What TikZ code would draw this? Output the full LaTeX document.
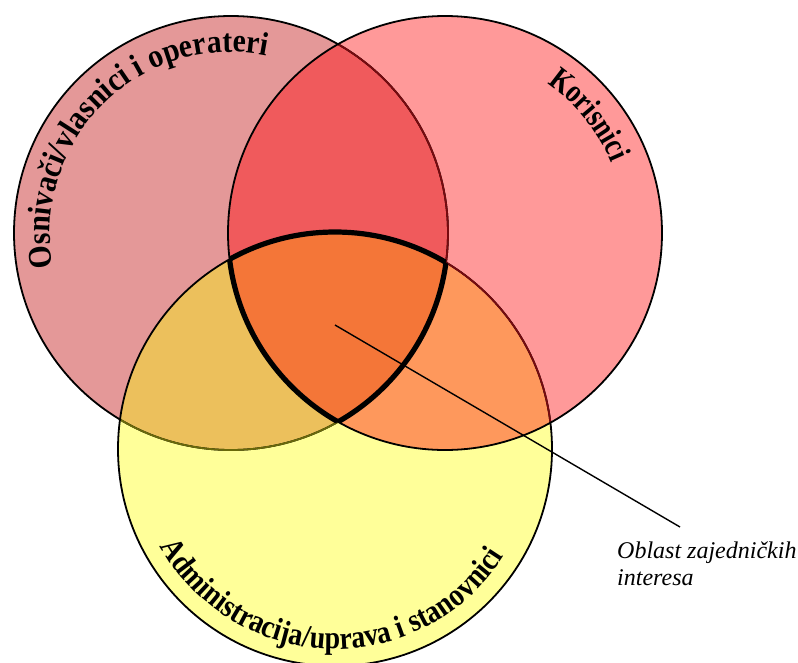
\documentclass[tikz,border=0pt]{standalone}
\usepackage{fontspec}
\setmainfont{Liberation Serif}
\newfontfamily\leftfont{Liberation Serif}[FakeStretch=0.9]
\newfontfamily\rightfont{Liberation Serif}[FakeStretch=0.8]
\newfontfamily\bottomfont{Liberation Serif}[FakeStretch=0.87]
\usetikzlibrary{decorations.text}
\definecolor{cL}{RGB}{228,152,152}
\definecolor{cR}{RGB}{255,153,153}
\definecolor{cY}{RGB}{255,255,153}
\definecolor{cLR}{RGB}{240,90,92}
\definecolor{cLY}{RGB}{236,192,92}
\definecolor{cRY}{RGB}{254,152,92}
\definecolor{cLRY}{RGB}{244,118,56}
\definecolor{cOl}{RGB}{105,105,10}
\definecolor{cMr}{RGB}{120,10,15}
\begin{document}
\begin{tikzpicture}[x=1pt,y=1pt,
  ring/.style={line width=1.8pt},
  core/.style={line width=5.2pt},
  lead/.style={line width=1.4pt},
  notetext/.style={font=\itshape\fontsize{24}{27}\selectfont, align=left, inner sep=0pt}]
\useasboundingbox (0,0) rectangle (798,-662);
\def\cA{(231,-233) circle[radius=217]}
\def\cB{(445,-233) circle[radius=217]}
\def\cC{(335,-449) circle[radius=217]}
% fills
\fill[cL] \cA;
\fill[cR] \cB;
\fill[cY] \cC;
\begin{scope}\clip \cB; \fill[cRY] \cC; \end{scope}
\begin{scope}\clip \cA; \fill[cLR] \cB; \fill[cLY] \cC; \clip \cB; \fill[cLRY] \cC; \end{scope}
% outlines
\draw[ring] \cA;
\begin{scope}\clip \cC; \draw[ring,cOl] \cA; \end{scope}
\draw[ring] \cC;
\begin{scope}\clip \cB; \draw[ring,cMr] \cA; \draw[ring,cMr] \cC; \end{scope}
\draw[ring] \cB;
% common region
\begin{scope}\clip \cA; \clip \cB; \draw[core] \cC; \end{scope}
\begin{scope}\clip \cA; \clip \cC; \draw[core] \cB; \end{scope}
\begin{scope}\clip \cB; \clip \cC; \draw[core] \cA; \end{scope}
% curved titles
\path[decorate, decoration={text along path, text align=center,
  text={|\leftfont\bfseries\fontsize{33}{33}\selectfont|Osnivači/vlasnici i operateri}}]
  (231,-233) ++(214.75:181) arc[start angle=214.75, end angle=54.75, radius=181];
\path[decorate, decoration={text along path, text align=center,
  text={|\rightfont\bfseries\fontsize{33}{33}\selectfont|Korisnici}}]
  (445,-233) ++(79.25:181) arc[start angle=79.25, end angle=-0.75, radius=181];
\path[decorate, decoration={text along path, text align=center,
  text={|\bottomfont\bfseries\fontsize{32}{32}\selectfont|Administracija/uprava i stanovnici}}]
  (335,-449) ++(183.35:200) arc[start angle=183.35, end angle=353.35, radius=200];
% note
\coordinate (p) at (335,-325);
\coordinate (q) at (680,-527);
\draw[lead] (p) -- (q);
\node[notetext, anchor=base west] (note) at (617,-585) {Oblast zajedničkih\\interesa};
\end{tikzpicture}
\end{document}
